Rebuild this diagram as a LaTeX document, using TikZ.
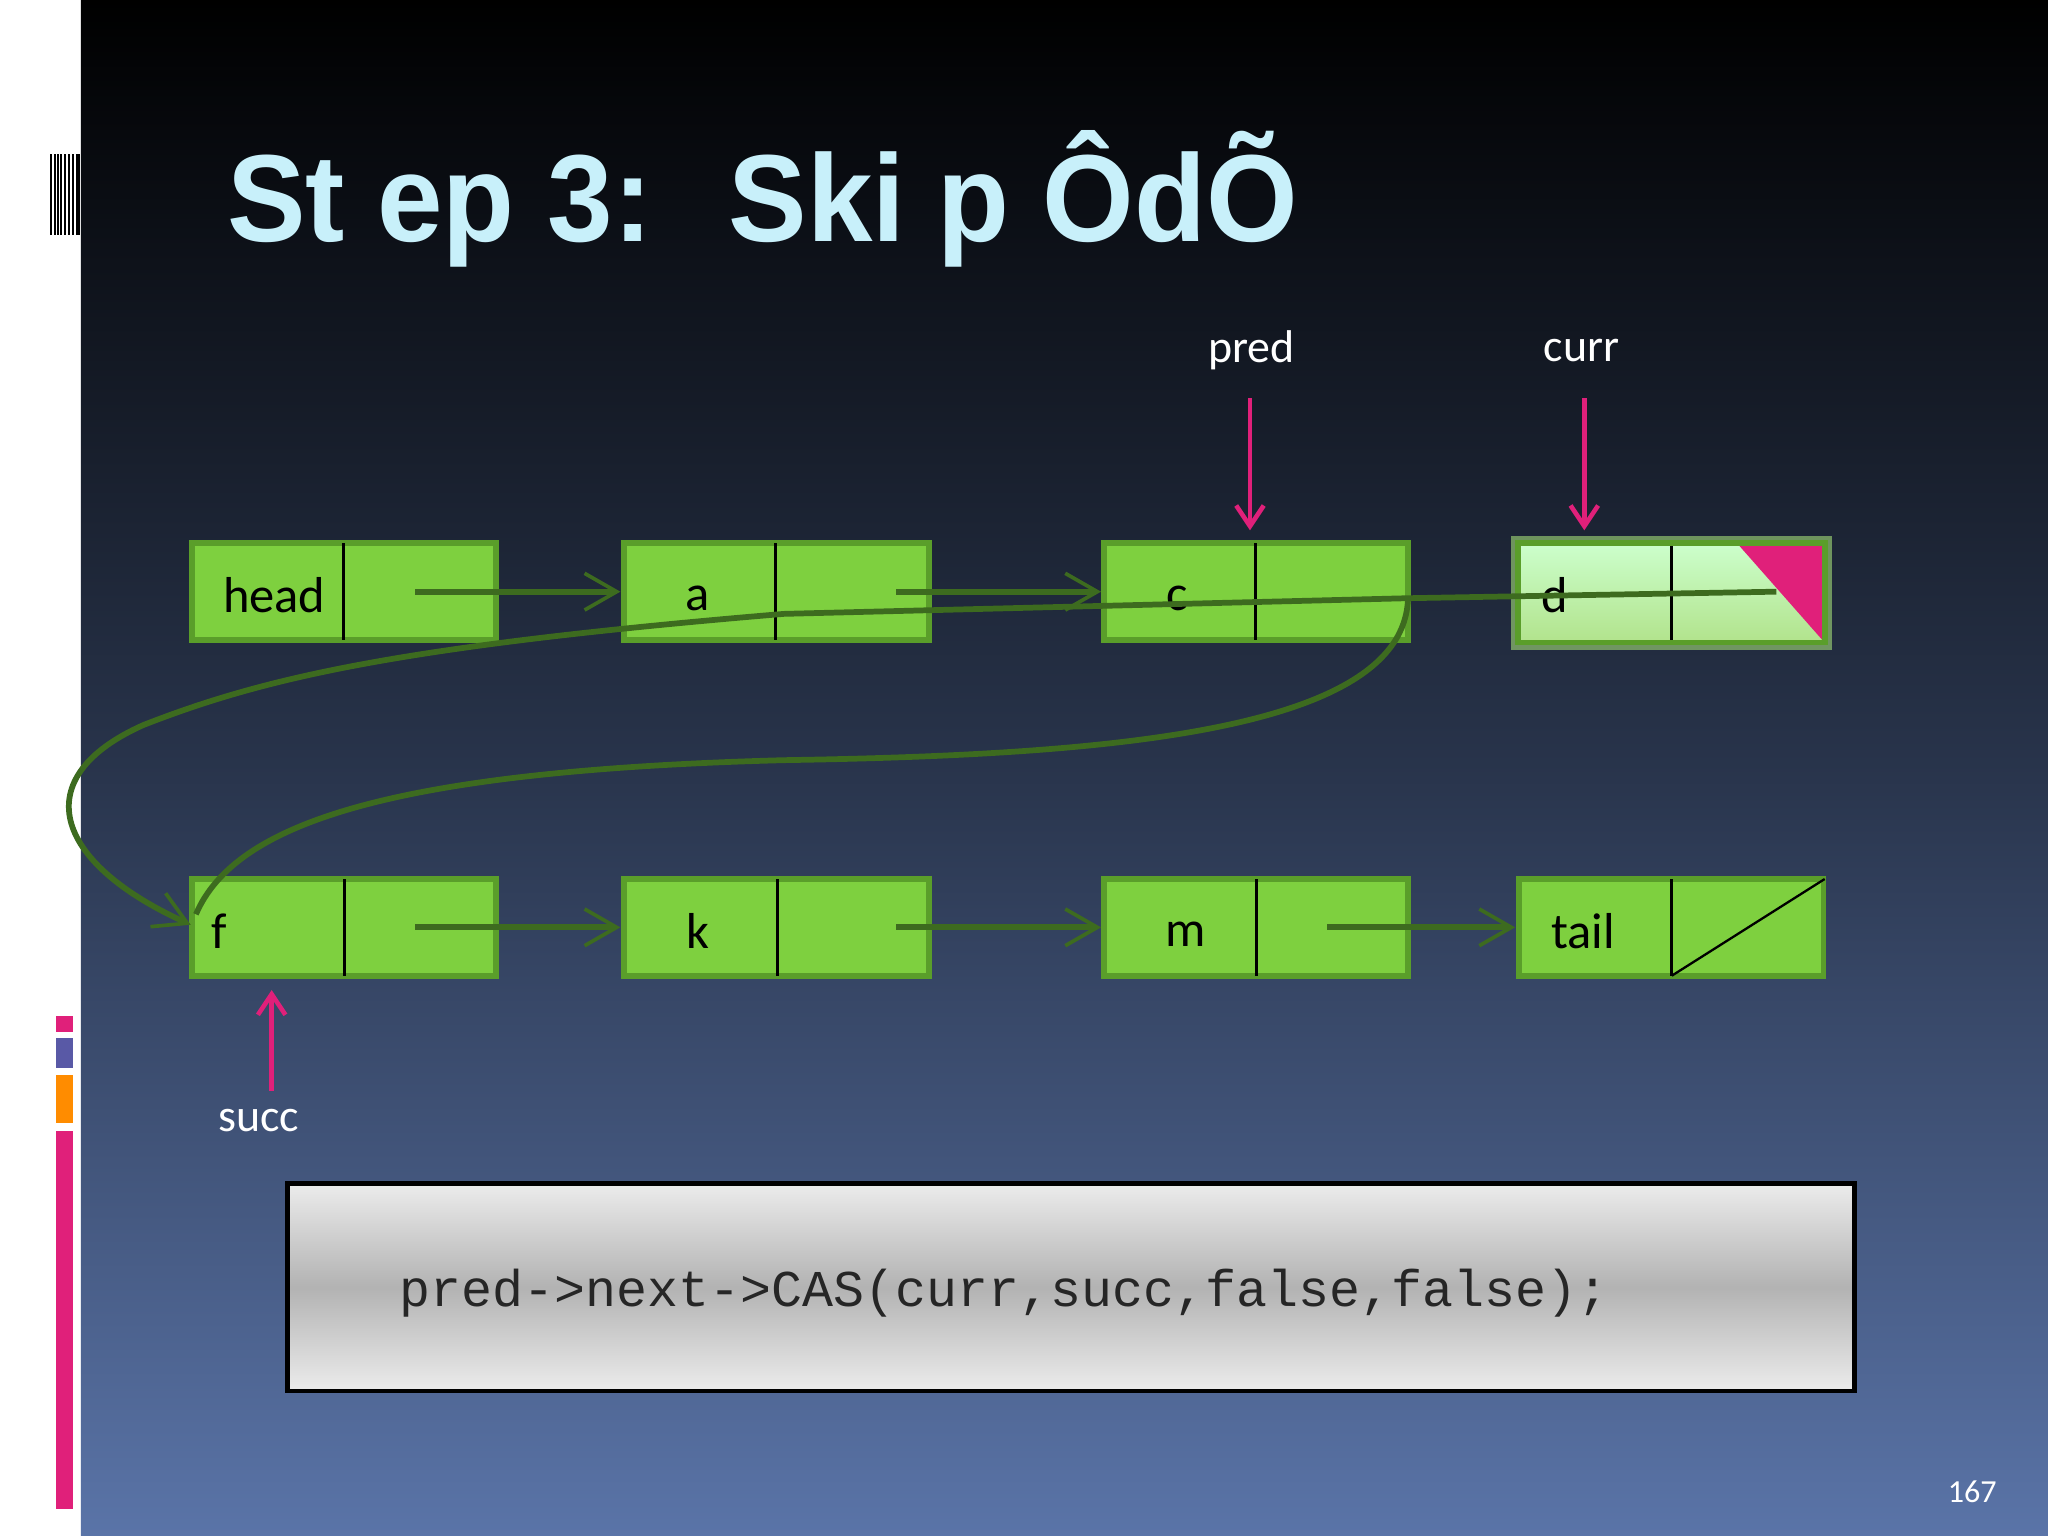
\documentclass[tikz,border=0pt]{standalone}
\usepackage{fontspec}
\setmainfont{Carlito}
\newfontfamily\titlefont{Liberation Sans}
\newfontfamily\codefont{Liberation Mono}
\usetikzlibrary{arrows.meta}
\definecolor{bgtop}{HTML}{000000}
\definecolor{bgbot}{HTML}{5A74A8}
\definecolor{nodegreen}{HTML}{7ED03F}
\definecolor{nodeedge}{HTML}{5A9E2A}
\definecolor{linkgreen}{HTML}{3D6B1F}
\definecolor{ptrpink}{HTML}{E0207A}
\definecolor{titlecyan}{HTML}{C8F0FA}
\tikzset{
 cell/.style={draw=nodeedge, line width=2.5pt, fill=nodegreen},
 divider/.style={draw=black, line width=1.2pt},
 link/.style={draw=linkgreen, line width=2.5pt, -{Straight Barb[length=14pt,width=16pt,line width=1.6pt]}},
 ptr/.style={draw=ptrpink, line width=2pt, -{Straight Barb[length=9pt,width=12pt]}},
 lab/.style={text=white, font=\fontsize{20}{22}\selectfont},
 celltext/.style={font=\fontsize{22}{24}\selectfont, text=black},
}
\begin{document}
\begin{tikzpicture}[x=0.02cm,y=-0.02cm]
\useasboundingbox (0,0) rectangle (1568,1176);
\fill[white] (0,0) rectangle (62,1176);
\shade[top color=bgtop, bottom color=bgbot, middle color=bgtop!55!bgbot] (62,0) rectangle (1568,1176);
% sidebar
\foreach \x in {38,41,44,46,49,52,55,58,60}{\fill[black] (\x,118) rectangle (\x+1.5,180);}
\fill[ptrpink] (43,778) rectangle (56,790);
\fill[gray!70!blue] (43,795) rectangle (56,818);
\fill[orange!90!yellow] (43,823) rectangle (56,860);
\fill[ptrpink] (43,866) rectangle (56,1155);
% title
\node[anchor=west, text=titlecyan, font=\titlefont\bfseries\fontsize{54}{56}\selectfont, xscale=0.95] (title) at (168,152) {St ep 3: \ Ski p ÔdÕ};
% top row
\foreach \n/\x/\t in {head/147/head, a/478/a, c/845/c}{
 \path[cell] (\x,416) rectangle (\x+233,490);
 \draw[divider] (\x+116,416) -- (\x+116,490);
}
\node[celltext] (head) at (210,456) {head};
\node[celltext] (a) at (534,458) {a};
\node[celltext] (c) at (901,458) {c};
% d (marked)
\path[draw=nodegreen!70!white, line width=6pt, opacity=0.6] (1162,416) rectangle (1397,492);
\shade[top color=green!20!white, bottom color=nodegreen!60!white, draw=nodeedge, line width=2.5pt] (1162,416) rectangle (1397,492);
\draw[divider] (1280,416) -- (1280,492);
\fill[ptrpink] (1330,416) -- (1397,416) -- (1397,492) -- cycle;
\draw[nodeedge, line width=2.5pt] (1162,416) rectangle (1397,492);
\node[celltext] (d) at (1190,456) {d};
% bottom row
\foreach \n/\x/\t in {f/147/f, k/478/k, m/845/m, tail/1163/tail}{
 \path[cell] (\x,673) rectangle (\x+233,747);
 \draw[divider] (\x+117,673) -- (\x+117,747);
}
\node[celltext] (f) at (168,713) {f};
\node[celltext] (k) at (534,713) {k};
\node[celltext] (m) at (908,715) {m};
\node[celltext] (tail) at (1212,713) {tail};
\draw[line width=1pt] (1280,747) -- (1397,673);
% links
\coordinate (h1) at (318,453); \coordinate (h2) at (475,453);
\coordinate (a1) at (686,453); \coordinate (a2) at (843,453);
\coordinate (f1) at (318,710); \coordinate (f2) at (475,710);
\coordinate (k1) at (686,710); \coordinate (k2) at (843,710);
\coordinate (m1) at (1016,710); \coordinate (m2) at (1160,710);
\draw[link] (h1) -- (h2);
\draw[link] (a1) -- (a2);
\draw[link] (f1) -- (f2);
\draw[link] (k1) -- (k2);
\draw[link] (m1) -- (m2);
% d's link back around to f
\coordinate (d1) at (1360,453); \coordinate (fin) at (146,708);
\draw[link] (d1) -- (1078,458) -- (600,470) .. controls (300,495) and (200,520) .. (110,555) .. controls (20,595) and (40,660) .. (fin);
% new link c -> f
\coordinate (c1) at (1078,458); \coordinate (fin2) at (150,700);
\draw[draw=linkgreen, line width=2.5pt] (c1) .. controls (1075,560) and (850,578) .. (600,582) .. controls (300,590) and (180,630) .. (fin2);
% pointers
\node[lab] (pred) at (958,268) {pred};
\node[lab] (curr) at (1211,268) {curr};
\node[lab] (succ) at (198,858) {succ};
\coordinate (pt) at (957,406); \coordinate (ct) at (1213,406); \coordinate (st) at (208,758);
\draw[ptr] (957,305) -- (pt);
\draw[ptr] (1213,305) -- (ct);
\draw[ptr] (208,835) -- (st);
% code box
\shade[top color=gray!15, bottom color=gray!15, middle color=gray!60] (220,906) rectangle (1420,1065);
\draw[black, line width=2pt] (220,906) rectangle (1420,1065);
\node[anchor=west, font=\codefont\fontsize{22.5}{24}\selectfont, text=black!85] (code) at (300,990) {pred->next->CAS(curr,succ,false,false);};
\node[text=white, font=\fontsize{14}{16}\selectfont] (pg) at (1510,1142) {167};
\end{tikzpicture}
\end{document}
